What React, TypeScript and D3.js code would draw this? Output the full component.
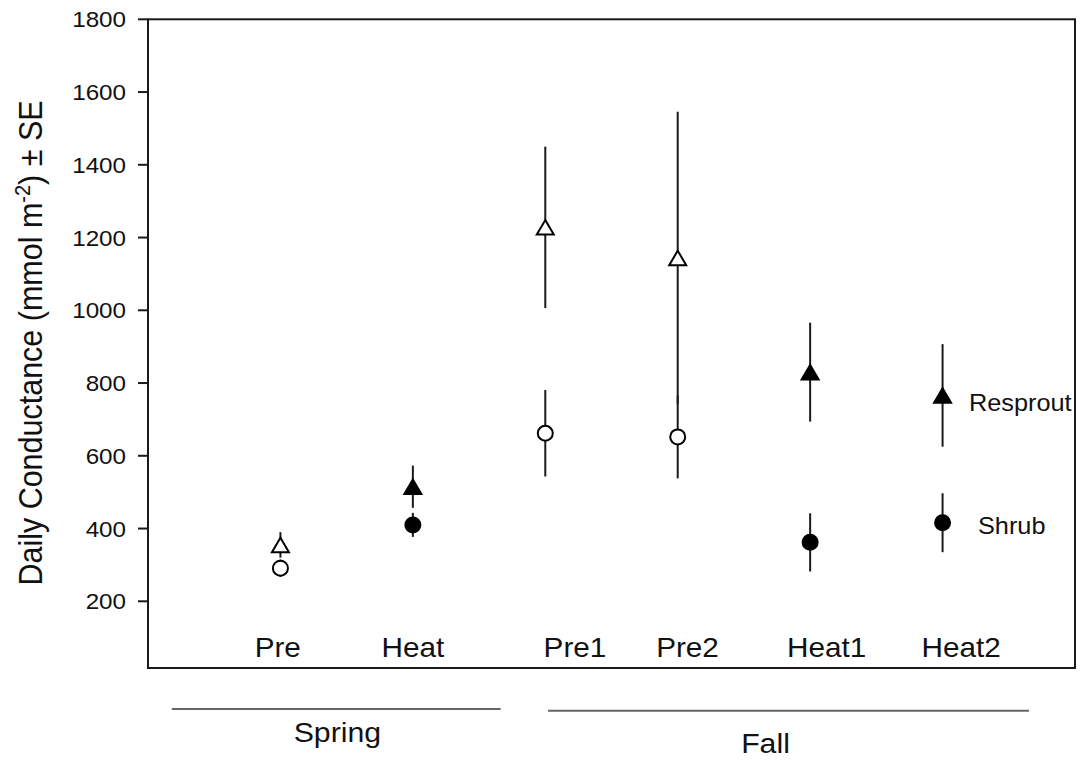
import React from "react";
import * as d3 from "d3";

// Treatment periods along the x axis
const categories = ["Pre", "Heat", "Pre1", "Pre2", "Heat1", "Heat2"];
// Open markers = pre-treatment, filled = post-heat
const filled = [false, true, false, false, true, true];

// Resprout (triangles)
const resproutMean = [355, 515, 1228, 1144, 830, 766];
const resproutSE = [35, 58, 222, 402, 136, 141];

// Shrub (circles)
const shrubMean = [291, 410, 662, 652, 362, 416];
const shrubSE = [24, 33, 119, 114, 80, 81];

const yTicks = [200, 400, 600, 800, 1000, 1200, 1400, 1600, 1800];

// Season groupings below the axis
const seasons = ["Spring", "Fall"];

const W = 1081;
const H = 761;
const FONT = "'Liberation Sans', Arial, sans-serif";
const INK = "#1a1a1a";

export default function App() {
  const left = 148;
  const right = 1075;
  const top = 19.3;
  const bottom = 668;

  const x = d3.scaleLinear().domain([-1, 6]).range([left, right]);
  const y = d3.scaleLinear().domain([16.6, 1800]).range([bottom, top]);

  // category label anchors in x-axis units
  const labelPos = [-0.02, 1.0, 2.224, 3.074, 4.124, 5.14];
  const seasonLines: [number, number, number][] = [
    [-0.82, 1.663, 709],
    [2.02, 5.653, 710.7],
  ];
  const seasonText: [number, number][] = [
    [0.43, 742.3],
    [3.663, 753.3],
  ];

  const triW = 17;
  const triH = 14.5;
  const tri = (cx: number, cy: number) =>
    `M${cx},${cy - triH / 2}L${cx + triW / 2},${cy + triH / 2}L${cx - triW / 2},${cy + triH / 2}Z`;

  const stretched = (tx: number, ty: number) => `translate(${tx},${ty}) scale(1.1,1)`;

  return (
    <svg width={W} height={H} style={{ position: "absolute", left: 0, top: 0, background: "#fff" }}>
      {/* y ticks and labels */}
      {yTicks.map((t) => (
        <g key={t}>
          <line x1={left - 10} x2={left} y1={y(t)} y2={y(t)} stroke={INK} strokeWidth={2} />
          <text
            transform={stretched(126, y(t) + 8)}
            textAnchor="end"
            fontFamily={FONT}
            fontSize={22}
            fill="#111"
          >
            {t}
          </text>
        </g>
      ))}

      {/* y axis title */}
      <text
        transform={`translate(42,343) scale(1.1,1) rotate(-90)`}
        textAnchor="middle"
        fontFamily={FONT}
        fontSize={30.5}
        fill="#111"
      >
        Daily Conductance (mmol m
        <tspan dy={-11} fontSize={20}>-2</tspan>
        <tspan dy={11}>) ± SE</tspan>
      </text>

      {/* error bars */}
      {categories.map((c, i) => (
        <g key={"e" + c}>
          <line
            x1={x(i)}
            x2={x(i)}
            y1={y(resproutMean[i] - resproutSE[i])}
            y2={y(resproutMean[i] + resproutSE[i])}
            stroke={INK}
            strokeWidth={2}
          />
          <line
            x1={x(i)}
            x2={x(i)}
            y1={y(shrubMean[i] - shrubSE[i])}
            y2={y(shrubMean[i] + shrubSE[i])}
            stroke={INK}
            strokeWidth={2}
          />
        </g>
      ))}

      {/* markers */}
      {categories.map((c, i) => (
        <g key={"m" + c}>
          <path
            d={tri(x(i), y(resproutMean[i]))}
            fill={filled[i] ? "#000" : "#fff"}
            stroke="#000"
            strokeWidth={2}
            strokeLinejoin="miter"
          />
          <circle
            cx={x(i)}
            cy={y(shrubMean[i])}
            r={7.5}
            fill={filled[i] ? "#000" : "#fff"}
            stroke="#000"
            strokeWidth={2}
          />
        </g>
      ))}

      {/* series labels */}
      <text transform={stretched(969, 411)} fontFamily={FONT} fontSize={23} fill="#111">
        Resprout
      </text>
      <text transform={stretched(978, 533.5)} fontFamily={FONT} fontSize={23} fill="#111">
        Shrub
      </text>

      {/* category labels */}
      {categories.map((c, i) => (
        <text
          key={"l" + c}
          transform={stretched(x(labelPos[i]), 657)}
          textAnchor="middle"
          fontFamily={FONT}
          fontSize={27}
          fill="#111"
        >
          {c}
        </text>
      ))}

      {/* frame */}
      <rect
        x={left}
        y={top}
        width={right - left}
        height={bottom - top}
        fill="none"
        stroke={INK}
        strokeWidth={2}
      />

      {/* season brackets */}
      {seasons.map((s, i) => (
        <g key={s}>
          <line
            x1={x(seasonLines[i][0])}
            x2={x(seasonLines[i][1])}
            y1={seasonLines[i][2]}
            y2={seasonLines[i][2]}
            stroke="#666"
            strokeWidth={2}
          />
          <text
            transform={stretched(x(seasonText[i][0]), seasonText[i][1])}
            textAnchor="middle"
            fontFamily={FONT}
            fontSize={27.5}
            fill="#111"
          >
            {s}
          </text>
        </g>
      ))}
    </svg>
  );
}
